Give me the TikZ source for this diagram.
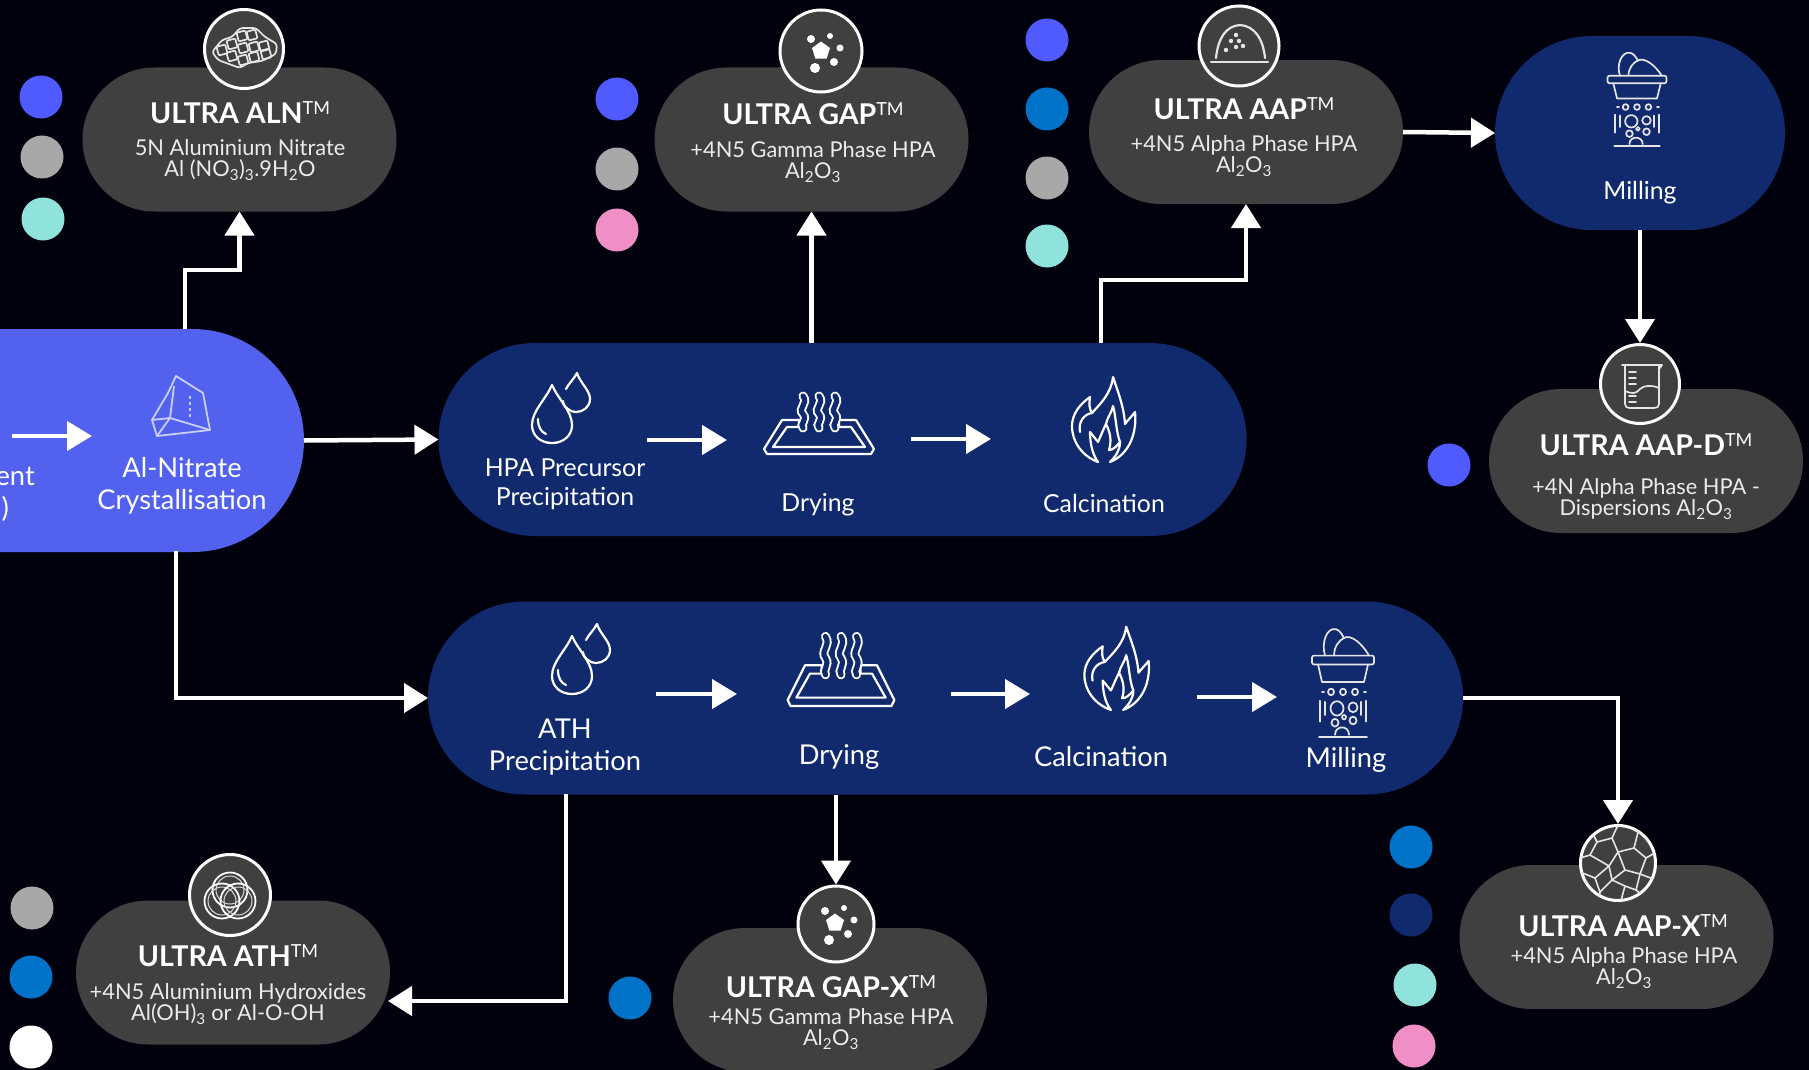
\documentclass[tikz,border=0pt]{standalone}
\usepackage{fontspec}
\setmainfont{Lato}
\usetikzlibrary{arrows.meta,shapes.misc,calc}
\lineskiplimit=-1000pt
\definecolor{bgc}{HTML}{01010E}
\definecolor{pillgray}{HTML}{404040}
\definecolor{navy}{HTML}{112A6E}
\definecolor{brightblue}{HTML}{5362EE}
\definecolor{dotblue}{HTML}{4F5BFF}
\definecolor{dotgray}{HTML}{A8A8A8}
\definecolor{dotteal}{HTML}{8FE3DA}
\definecolor{dotpink}{HTML}{F08FC5}
\definecolor{dotazure}{HTML}{0073C9}
\definecolor{pale}{HTML}{C9CEFA}
\newcommand{\tm}{\raisebox{.3em}{\normalfont\fontsize{18}{18}\selectfont TM}}
\newcommand{\sbb}[1]{\textsubscript{#1}}
\tikzset{
  x=1pt,y=-1pt,
  pill/.style={rounded rectangle,rounded rectangle arc length=180,inner sep=0pt,outer sep=0pt,draw=none},
  grayp/.style={pill,fill=pillgray,minimum width=314pt,minimum height=144pt},
  navyp/.style={pill,fill=navy},
  dot/.style={circle,inner sep=0pt,minimum size=43pt,draw=none},
  ring/.style={circle,inner sep=0pt,minimum size=79pt,draw=white,line width=3pt,fill=pillgray},
  arr/.style={draw=white,line width=4.5pt,-{Triangle[length=24pt,width=29pt]}},
  arrs/.style={draw=white,line width=4.5pt,-{Triangle[length=25pt,width=29pt]}},
  title/.style={text=white,font=\fontsize{28.6}{28.6}\selectfont\bfseries,inner sep=0pt},
  desc/.style={text=white!92!black,font=\fontsize{21.8}{21}\selectfont,align=center,inner sep=0pt},
  steplab/.style={text=white,font=\fontsize{27.3}{32}\selectfont,align=center,inner sep=0pt},
  steplabb/.style={text=white,font=\fontsize{24.8}{29}\selectfont,align=center,inner sep=0pt},
  icon/.style={draw=white,line width=2.2pt,line join=round,line cap=round},
  iconthin/.style={draw=white!90!black,line width=1.7pt,line join=round,line cap=round},
  drops/.pic={
    \draw[icon] (0,-58) .. controls (-6,-44) and (-20,-32) .. (-20,-18) .. controls (-20,-7) and (-11,0) .. (0,0) .. controls (11,0) and (20,-7) .. (20,-18) .. controls (20,-32) and (6,-44) .. (0,-58);
    \draw[icon] (-14,-24) .. controls (-14,-16) and (-11,-11) .. (-6,-9);
    \draw[icon] (14,-54) .. controls (17,-60) and (22,-64) .. (25,-70) .. controls (28,-60) and (38,-53) .. (38,-44) .. controls (38,-36) and (31,-31) .. (24,-31) .. controls (21,-31) and (18,-32) .. (16,-34);
    \draw[icon] (11,-42) .. controls (11,-38) and (13,-36) .. (16,-34);
  },
  flame/.pic={
    \draw[icon] (-6,0) .. controls (-22,-6) and (-32,-20) .. (-32,-36) .. controls (-32,-48) and (-24,-58) .. (-14,-65)
      .. controls (-15,-58) and (-15,-54) .. (-12,-49) .. controls (-4,-58) and (7,-68) .. (9,-85)
      .. controls (14,-70) and (20,-55) .. (21,-38) .. controls (24,-42) and (28,-46) .. (31,-50)
      .. controls (33,-30) and (26,-8) .. (6,0) .. controls (12,-6) and (16,-12) .. (16,-20)
      .. controls (12,-15) and (9,-12) .. (5,-12) .. controls (8,-22) and (6,-30) .. (2,-38)
      .. controls (-2,-30) and (-4,-24) .. (-6,-20) -- (-14,-30) .. controls (-14,-20) and (-12,-8) .. (-6,0);
    \draw[icon] (-24,-30) .. controls (-26,-40) and (-20,-48) .. (-12,-49);
    \draw[icon] (2,-38) .. controls (3,-44) and (8,-50) .. (9,-56) .. controls (12,-46) and (12,-30) .. (16,-20);
  },
  tray/.pic={
    \draw[icon] (-20,-34) -- (-37,-34) -- (-55,-5) -- (-52,0) -- (52,0) -- (55,-5) -- (37,-34) -- (20,-34) -- (20,-27) -- (32,-27) -- (46,-7) -- (-46,-7) -- (-32,-27) -- (-20,-27) -- cycle;
    \foreach \xx in {-16,0,16}
      \draw[draw=white,line width=9pt,line cap=round,shift={(\xx,0)}] (0,-58) .. controls (6,-50) and (-6,-46) .. (0,-40) .. controls (5,-34) and (-4,-30) .. (0,-26);
    \foreach \xx in {-16,0,16}
      \draw[draw=navy,line width=5.2pt,line cap=round,shift={(\xx,0)}] (0,-58) .. controls (6,-50) and (-6,-46) .. (0,-40) .. controls (5,-34) and (-4,-30) .. (0,-26);
  },
  millicon/.pic={
    \draw[iconthin] (-18,-74) .. controls (-22,-86) and (-16,-100) .. (-7,-98) .. controls (-3,-97) and (-1,-93) .. (1,-90) .. controls (8,-94) and (20,-84) .. (26,-74);
    \draw[iconthin] (-9,-74) .. controls (-9,-82) and (-4,-88) .. (1,-90);
    \draw[iconthin,rounded corners=2pt] (-31,-74) rectangle (31,-66);
    \draw[iconthin] (-25,-66) -- (-21,-50) -- (21,-50) -- (25,-66);
    \foreach \xx in {-12,0,12} \draw[iconthin] (\xx,-41) circle (3pt);
    \foreach \xx in {-21,21} \draw[iconthin] (\xx,-41) -- ++(2,0);
    \foreach \xx in {-23,23} \draw[iconthin] (\xx,-33) -- (\xx,-14);
    \foreach \xx in {-18,18} \draw[iconthin] (\xx,-32) -- (\xx,-20);
    \draw[iconthin] (-6,-26) circle (6.5pt);
    \draw[iconthin] (10,-27) circle (4.5pt);
    \draw[iconthin] (-8,-13) circle (3.5pt);
    \draw[iconthin] (10,-15) circle (3.5pt);
    \draw[iconthin] (1,-18) circle (2pt);
    \draw[iconthin] (-8,-2) .. controls (-8,-11) and (6,-11) .. (6,-2);
    \draw[iconthin] (-24,0) -- (24,0);
  },
  dotsicon/.pic={
    \fill[white] (0,-9.5) -- (9,-3) -- (5.6,7.7) -- (-5.6,7.7) -- (-9,-3) -- cycle;
    \foreach \xx/\yy/\rr in {-10/-12/4,9/-15/3,19/-3/3.5,13/11/4,-6/17/5}
      \fill[white] (\xx,\yy) circle (\rr pt);
  },
}
\begin{document}
\begin{tikzpicture}
\clip (0,0) rectangle (1809,1070);
\fill[bgc] (0,0) rectangle (1809,1070);
% pills
\node[pill,fill=brightblue,minimum width=505pt,minimum height=223pt] (cryst) at (51.5,440.5) {};
\node[navyp,minimum width=808pt,minimum height=193pt] (hpa) at (842.5,439.5) {};
\node[navyp,minimum width=1035pt,minimum height=193pt] (ath) at (945.5,698) {};
\node[navyp,minimum width=290pt,minimum height=194pt] (mill) at (1640,133) {};
\node[grayp] (aln) at (239.5,139.5) {};
\node[grayp] (gap) at (811.5,139.5) {};
\node[grayp] (aap) at (1246,132) {};
\node[grayp] (aapd) at (1646,461) {};
\node[grayp] (aapx) at (1616.5,937) {};
\node[grayp] (athg) at (233,972.5) {};
\node[grayp] (gapx) at (830,1000) {};
% rings
\node[ring] (ialn) at (244,49) {};
\node[ring,minimum size=82pt] (igap) at (821,51) {};
\node[ring,minimum size=80pt] (iaap) at (1239,46) {};
\node[ring] (iaapd) at (1640,384) {};
\node[ring,minimum size=81pt] (iath) at (230,895) {};
\node[ring,minimum size=76pt] (igapx) at (836,924) {};
\node[ring,minimum size=75pt] (iaapx) at (1618,863) {};
% dots
\node[dot,fill=dotblue] (d1) at (41,97) {};
\node[dot,fill=dotgray] (d2) at (42,157) {};
\node[dot,fill=dotteal] (d3) at (43,219) {};
\node[dot,fill=dotblue] (d4) at (617,99) {};
\node[dot,fill=dotgray] (d5) at (617,169) {};
\node[dot,fill=dotpink] (d6) at (617,230) {};
\node[dot,fill=dotblue] (d7) at (1047,40) {};
\node[dot,fill=dotazure] (d8) at (1047,109) {};
\node[dot,fill=dotgray] (d9) at (1047,178) {};
\node[dot,fill=dotteal] (d10) at (1047,246) {};
\node[dot,fill=dotblue] (d11) at (1449,465) {};
\node[dot,fill=dotazure] (d12) at (1411,847) {};
\node[dot,fill=navy] (d13) at (1411,915) {};
\node[dot,fill=dotteal] (d14) at (1415,985) {};
\node[dot,fill=dotpink] (d15) at (1414,1046) {};
\node[dot,fill=dotgray] (d16) at (32,908) {};
\node[dot,fill=dotazure] (d17) at (31,977) {};
\node[dot,fill=white] (d18) at (31,1047) {};
\node[dot,fill=dotazure] (d19) at (630,998) {};
% connectors
\coordinate (c1) at (185,329);
\coordinate (c2) at (1101,343);
\coordinate (c3) at (176,551);
\coordinate (c4) at (566,794);
\coordinate (c5) at (388,1001);
\draw[arr] (c1) -- (c1 |- 0,270) -| (aln.south);
\draw[arr] (gap.south |- hpa.north) -- (gap.south);
\draw[arr] (c2) -- (c2 |- 0,280) -| (aap.south);
\draw[arr] (cryst.east) -- (hpa.west);
\draw[arr] (c3) |- (ath.west);
\draw[arr] (c4) |- (c5);
\draw[arr] (igapx.north |- ath.south) -- (igapx.north);
\draw[arr] (ath.east) -| (iaapx.north);
\draw[arr] (aap.east) -- (mill.west);
\draw[arr] (iaapd.north |- mill.south) -- (iaapd.north);
% inner arrows
\coordinate (a1s) at (12,436); \coordinate (a1e) at (92,436);
\coordinate (a2s) at (647,440); \coordinate (a2e) at (727,440);
\coordinate (a3s) at (911,439); \coordinate (a3e) at (991,439);
\coordinate (a4s) at (656,694); \coordinate (a4e) at (737,694);
\coordinate (a5s) at (951,694); \coordinate (a5e) at (1030,694);
\coordinate (a6s) at (1197,697); \coordinate (a6e) at (1277,697);
\foreach \aa in {1,...,6} \draw[arrs] (a\aa s) -- (a\aa e);
% titles
\node[title] (tgap) at (813,113.5) {ULTRA GAP\tm};
\node[title] (taln) at (240,112.5) {ULTRA ALN\tm};
\node[title] (taap) at (1244,108.5) {ULTRA AAP\tm};
\node[title] (taapd) at (1646,444.5) {ULTRA AAP-D\tm};
\node[title] (taapx) at (1623,925.5) {ULTRA AAP-X\tm};
\node[title] (tath) at (228,955.5) {ULTRA ATH\tm};
\node[title] (tgapx) at (831,986.5) {ULTRA GAP-X\tm};
% descriptions
\node[desc] (daln) at (240,160) {5N Aluminium Nitrate\\Al (NO\sbb{3})\sbb{3}.9H\sbb{2}O};
\node[desc] (dgap) at (813,162) {+4N5 Gamma Phase HPA\\Al\sbb{2}O\sbb{3}};
\node[desc] (daap) at (1244,156) {+4N5 Alpha Phase HPA\\Al\sbb{2}O\sbb{3}};
\node[desc] (daapd) at (1646,499) {+4N Alpha Phase HPA -\\Dispersions Al\sbb{2}O\sbb{3}};
\node[desc] (daapx) at (1624,968) {+4N5 Alpha Phase HPA\\Al\sbb{2}O\sbb{3}};
\node[desc] (dath) at (228,1004) {+4N5 Aluminium Hydroxides\\Al(OH)\sbb{3} or Al-O-OH};
\node[desc] (dgapx) at (831,1029) {+4N5 Gamma Phase HPA\\Al\sbb{2}O\sbb{3}};
% step labels
\node[steplab,anchor=east] (l1) at (35,476) {ent};
\node[steplab,anchor=east] (l2) at (9,509) {)};
\node[steplab] (l3) at (182,486) {Al-Nitrate\\Crystallisation};
\node[steplabb] (l4) at (565,484) {HPA Precursor\\Precipitation};
\node[steplabb] (l5) at (818,505) {Drying};
\node[steplabb] (l6) at (1104,503) {Calcination};
\node[steplab] (l7) at (565,747) {ATH\\Precipitation};
\node[steplab] (l8) at (839,757) {Drying};
\node[steplab] (l9) at (1101,757) {Calcination};
\node[steplab] (l10) at (1346,760) {Milling};
\node[steplabb] (l11) at (1640,193) {Milling};
% process icons
\pic at (552,443) {drops};
\pic at (572,694) {drops};
\pic at (1104,462) {flame};
\pic[xscale=1.02,yscale=0.98] at (1117,710) {flame};
\pic at (819,454) {tray};
\pic[xscale=0.97,yscale=1.2] at (841,706) {tray};
\pic[scale=0.95] at (1637,146) {millicon};
\pic[yscale=1.1] at (1343,737) {millicon};
% crystal
\draw[draw=pale,line width=1.8pt,line join=round] (176,376) -- (203,393) -- (210,430) -- (157,436) -- (152,420) -- (168,393) -- cycle;
\draw[draw=pale,line width=1.8pt,line join=round] (174,386) -- (170,418) -- (210,430) (170,418) -- (157,436) (152,420) -- (170,418);
\draw[draw=pale,line width=1.5pt,dashed] (190,396) -- (190,418);
% ALN icon
\draw[iconthin,rounded corners=3pt] (212,52) -- (222,40) -- (232,37) -- (240,28) -- (256,28) -- (265,37) -- (277,44) -- (276,54) -- (262,61) -- (248,63) -- (240,68) -- (229,64) -- (218,60) -- cycle;
\foreach \xx/\yy in {222/50,232/44,242/36,252/35,232/56,243/48,254/47,264/46,243/60,254/57,266/54}
  \draw[iconthin,rotate around={15:(\xx,\yy)},rounded corners=1pt] (\xx-4.5,\yy-4.5) rectangle (\xx+4.5,\yy+4.5);
% GAP icons
\pic at (821,51) {dotsicon};
\pic at (835,923) {dotsicon};
% AAP dome
\draw[iconthin,line width=2.2pt] (1216,58) .. controls (1218,38) and (1226,26) .. (1240,25) .. controls (1254,26) and (1263,38) .. (1265,58);
\draw[iconthin,line width=2.2pt] (1211,62) -- (1268,62);
\foreach \xx/\yy in {1236/35,1231/41,1239/41,1243/46,1236/47,1226/50}
  \fill[white!90!black] (\xx,\yy) circle (2.2pt);
% beaker
\draw[iconthin] (1622,365) -- (1662,365) -- (1660,368) (1625,366) -- (1625,404) .. controls (1625,407) and (1627,408) .. (1630,408) -- (1654,408) .. controls (1657,408) and (1659,407) .. (1659,404) -- (1659,366);
\draw[iconthin] (1625,391) .. controls (1632,394) and (1636,394) .. (1640,389) .. controls (1644,385) and (1652,385) .. (1659,388);
\foreach \yy in {372,378,384,396,402} \draw[iconthin] (1629,\yy) -- (1636,\yy);
% ATH rings
\foreach \xx/\yy in {230/890,222/901,238/901}{
  \draw[draw=white,line width=1.8pt] (\xx,\yy) circle (17.5pt);
  \draw[draw=white!85!black,line width=1pt] (\xx,\yy) circle (14pt);
}
% AAP-X voronoi
\begin{scope}
\clip (iaapx) circle (38pt);
\draw[iconthin,line width=1.6pt]
 (1590,828) -- (1597,842) -- (1590,855) -- (1580,858)
 (1597,842) -- (1612,838) -- (1618,825)
 (1612,838) -- (1618,852) -- (1609,866) -- (1590,855)
 (1618,852) -- (1634,848) -- (1638,832) -- (1630,824)
 (1634,848) -- (1646,858) -- (1660,850)
 (1638,832) -- (1650,838)
 (1646,858) -- (1640,874) -- (1625,870) -- (1618,852)
 (1609,866) -- (1612,880) -- (1625,870)
 (1640,874) -- (1656,880)
 (1640,874) -- (1636,890) -- (1625,886) -- (1612,880)
 (1609,866) -- (1595,878) -- (1580,872)
 (1595,878) -- (1600,892) -- (1612,880)
 (1600,892) -- (1598,904)
 (1625,886) -- (1620,904)
 (1636,890) -- (1646,898);
\end{scope}
\end{tikzpicture}
\end{document}
